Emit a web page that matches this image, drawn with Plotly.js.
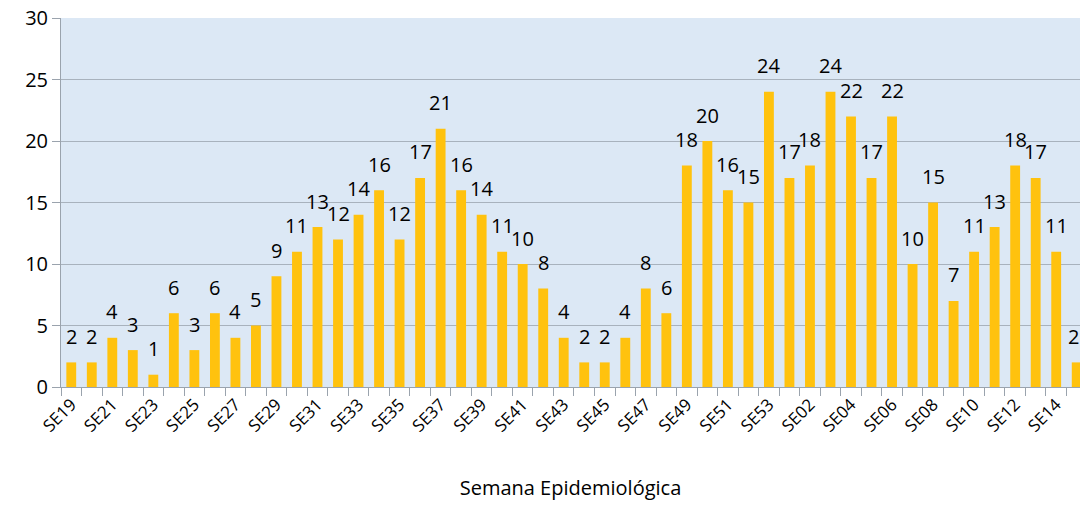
<!DOCTYPE html>
<html>
<head>
<meta charset="utf-8">
<script src="https://cdn.plot.ly/plotly-3.0.1.min.js"></script>
<style>html,body{margin:0;padding:0;background:#fff;}#chart{width:1080px;height:530px;}</style>
</head>
<body>
<div id="chart"></div>
<script>
const weeks = ["SE19","SE20","SE21","SE22","SE23","SE24","SE25","SE26","SE27","SE28","SE29","SE30","SE31","SE32","SE33","SE34","SE35","SE36","SE37","SE38","SE39","SE40","SE41","SE42","SE43","SE44","SE45","SE46","SE47","SE48","SE49","SE50","SE51","SE52","SE53","SE01","SE02","SE03","SE04","SE05","SE06","SE07","SE08","SE09","SE10","SE11","SE12","SE13","SE14","SE15"];
const cases = [2,2,4,3,1,6,3,6,4,5,9,11,13,12,14,16,12,17,21,16,14,11,10,8,4,2,2,4,8,6,18,20,16,15,24,17,18,24,22,17,22,10,15,7,11,13,18,17,11,2];
const yTicks = [0,5,10,15,20,25,30];
const xTitle = "Semana Epidemiológica";

const font = "Open Sans, Liberation Sans, sans-serif";
const tickText = weeks.map((w,i) => i % 2 === 0 ? w : "");

const trace = {
  type: "bar",
  x: weeks,
  y: cases,
  width: 0.48,
  marker: {color: "#FFC20E", line: {width: 0}},
  hoverinfo: "x+y"
};

const last = weeks.length - 1;
const annotations = weeks.map((w,i) => ({
  x: w, y: cases[i], xref: "x", yref: "y",
  text: String(cases[i]), showarrow: false,
  xanchor: i === last ? "right" : "center",
  xshift: i === last ? 4 : 0,
  yanchor: "middle", yshift: 26,
  font: {family: font, size: 20, color: "#000"}
}));

const layout = {
  width: 1080, height: 530,
  margin: {l: 61, r: 0, t: 18, b: 143},
  paper_bgcolor: "#ffffff",
  plot_bgcolor: "#dce8f5",
  showlegend: false,
  xaxis: {
    type: "category",
    range: [-0.5, 49.16],
    tickmode: "array",
    tickvals: weeks,
    ticktext: tickText,
    tickson: "boundaries",
    ticks: "outside",
    ticklen: 8,
    tickcolor: "#9aa3ad",
    tickangle: -45,
    tickfont: {family: font, size: 17, color: "#000"},
    showline: true, linecolor: "#9aa3ad", linewidth: 1,
    showgrid: false,
    automargin: false,
    title: {text: xTitle, font: {family: font, size: 20, color: "#000"}, standoff: 45}
  },
  yaxis: {
    range: [0, 30],
    tickmode: "array",
    tickvals: yTicks,
    ticks: "outside",
    ticklen: 8,
    tickcolor: "#9aa3ad",
    tickfont: {family: font, size: 20, color: "#000"},
    showline: true, linecolor: "#9aa3ad", linewidth: 1,
    showgrid: true, gridcolor: "#a8b2bd", gridwidth: 1,
    zeroline: false
  },
  annotations: annotations
};

Plotly.newPlot("chart", [trace], layout, {displayModeBar: false, staticPlot: true});
</script>
</body>
</html>
